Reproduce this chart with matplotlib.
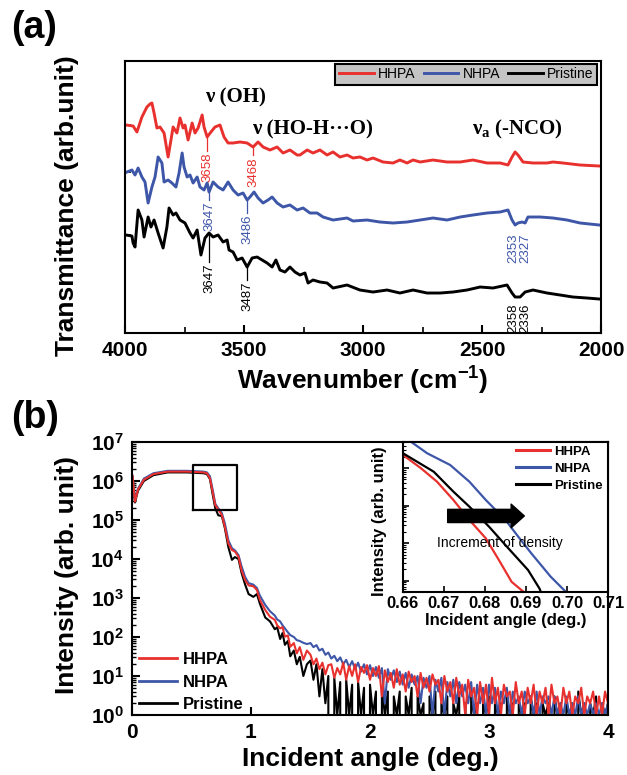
import numpy as np
import matplotlib
matplotlib.use('Agg')
import matplotlib.pyplot as plt
from matplotlib.lines import Line2D
from matplotlib.ticker import NullLocator, FixedLocator, FormatStrFormatter, LogLocator, NullFormatter

plt.rcParams['font.family'] = ['Liberation Sans', 'DejaVu Sans']
plt.rcParams['axes.linewidth'] = 1.5

RED = '#e8312e'
BLUE = '#3d56a8'
BLACK = '#000000'
series_names = ['HHPA', 'NHPA', 'Pristine']
series_colors = {'HHPA': RED, 'NHPA': BLUE, 'Pristine': BLACK}

# ---------------- (a) FTIR data ----------------
hhpa_wn = [3996, 3966, 3950, 3929, 3908, 3895, 3887, 3878, 3866, 3853, 3836, 3819, 3807, 3798, 3782,
           3769, 3756, 3748, 3735, 3718, 3706, 3693, 3676, 3668, 3655, 3639, 3622, 3601, 3584, 3567,
           3546, 3517, 3487, 3462, 3441, 3420, 3391, 3361, 3336, 3307, 3277, 3265, 3235, 3210, 3181,
           3151, 3126, 3097, 3067, 3042, 3013, 2983, 2958, 2916, 2874, 2845, 2815, 2790, 2760, 2706,
           2647, 2592, 2538, 2479, 2424, 2391, 2374, 2361, 2349, 2328, 2286, 2227, 2202, 2160, 2088, 2008]
hhpa_t = [208, 207, 201, 216, 226, 229, 230, 220, 205, 206, 200, 176, 193, 206, 200,
          215, 205, 208, 193, 210, 200, 205, 218, 206, 196, 201, 206, 208, 196, 190,
          190, 191, 190, 186, 191, 186, 183, 186, 180, 183, 178, 178, 183, 180, 183,
          178, 181, 176, 178, 175, 176, 173, 175, 171, 170, 173, 170, 173, 171, 173,
          171, 171, 173, 170, 170, 168, 176, 181, 178, 171, 170, 170, 171, 170, 168, 167]

nhpa_wn = [3992, 3971, 3958, 3945, 3929, 3916, 3903, 3887, 3874, 3861, 3845, 3836, 3819, 3803, 3786,
           3773, 3760, 3752, 3739, 3727, 3714, 3697, 3685, 3668, 3655, 3647, 3630, 3609, 3588, 3567,
           3546, 3525, 3504, 3487, 3475, 3458, 3441, 3420, 3399, 3382, 3361, 3336, 3307, 3277, 3252,
           3223, 3193, 3168, 3126, 3067, 3042, 2983, 2929, 2874, 2815, 2760, 2706, 2647, 2592, 2538,
           2479, 2424, 2391, 2374, 2361, 2349, 2332, 2319, 2307, 2256, 2202, 2143, 2088, 2008]
nhpa_t = [161, 163, 158, 165, 156, 151, 130, 146, 156, 176, 170, 151, 153, 150, 146,
          160, 180, 166, 156, 158, 150, 156, 146, 143, 150, 141, 151, 146, 143, 151,
          143, 138, 140, 133, 136, 141, 135, 130, 133, 136, 130, 126, 128, 123, 125,
          120, 120, 116, 113, 115, 112, 113, 111, 110, 111, 113, 115, 113, 116, 118,
          120, 121, 123, 113, 108, 110, 111, 110, 116, 116, 115, 113, 110, 108]

pristine_wn = [3996, 3971, 3966, 3958, 3945, 3929, 3920, 3903, 3891, 3878, 3861, 3840, 3824, 3815, 3798,
               3786, 3769, 3748, 3727, 3714, 3697, 3681, 3664, 3647, 3630, 3609, 3588, 3571, 3563, 3546,
               3529, 3508, 3487, 3466, 3445, 3424, 3403, 3382, 3366, 3349, 3328, 3307, 3286, 3265, 3244,
               3231, 3210, 3181, 3151, 3126, 3067, 3013, 2958, 2899, 2845, 2790, 2731, 2676, 2622, 2563,
               2508, 2454, 2395, 2374, 2361, 2340, 2319, 2286, 2227, 2172, 2118, 2059, 2008]
pristine_t = [98, 97, 90, 86, 123, 113, 96, 116, 106, 113, 100, 85, 106, 125, 118,
              120, 113, 110, 100, 95, 103, 78, 95, 100, 96, 98, 91, 93, 83, 81,
              73, 75, 66, 75, 76, 73, 70, 66, 73, 63, 61, 66, 61, 58, 60,
              50, 53, 51, 50, 45, 48, 43, 41, 43, 40, 43, 40, 40, 41, 43,
              46, 45, 48, 40, 36, 36, 41, 43, 40, 38, 36, 35, 34]

ftir = {'HHPA': (hhpa_wn, hhpa_t), 'NHPA': (nhpa_wn, nhpa_t), 'Pristine': (pristine_wn, pristine_t)}

# peak labels: text, series, x position, text top, leader start, leader end
peak_text = ['3658', '3468', '3647', '3486', '3647', '3487', '2353', '2327', '2358', '2336']
peak_series = ['HHPA', 'HHPA', 'NHPA', 'NHPA', 'Pristine', 'Pristine', 'NHPA', 'NHPA', 'Pristine', 'Pristine']
peak_x = [3655, 3462, 3647, 3487, 3647, 3487, 2370, 2320, 2370, 2320]
peak_top = [181, 176, 132, 119, 70, 52, 100, 100, 30, 30]
lead_from = [195, 186, 140, 132, 100, 66, None, None, None, None]
lead_to = [182, 178, 133, 120, 71, 53, None, None, None, None]

# ---------------- (b) XRR data ----------------
xrr_head_x = [0.005, 0.025, 0.05, 0.1, 0.18, 0.3, 0.46, 0.6, 0.63, 0.655, 0.68, 0.70, 0.725, 0.755,
              0.78, 0.81, 0.84, 0.865, 0.895, 0.92, 0.95, 0.98, 1.02, 1.05, 1.075, 1.12, 1.16, 1.2,
              1.22, 1.245, 1.265, 1.285, 1.31, 1.33, 1.36, 1.385, 1.41, 1.44, 1.47]
hhpa_head = [1.35e6, 2.95e5, 6.0e5, 1.07e6, 1.5e6, 1.74e6, 1.74e6, 1.66e6, 1.58e6, 1.17e6,
             4.8e5, 2.4e5, 1.86e5, 1.35e5, 6.8e4, 2.5e4, 1.7e4, 1.55e4, 1.15e4, 5.2e3,
             2.9e3, 2.1e3, 2.0e3, 1.6e3, 890, 490, 330, 275, 200, 166,
             180, 102, 110, 56, 70, 38, 55, 26, 45]
nhpa_head = [1.35e6, 3.2e5, 6.3e5, 1.15e6, 1.58e6, 1.82e6, 1.82e6, 1.74e6, 1.66e6, 1.32e6,
             5.6e5, 2.6e5, 2.0e5, 1.5e5, 8.3e4, 3.0e4, 1.9e4, 1.66e4, 1.26e4, 6.6e3,
             3.5e3, 2.4e3, 2.2e3, 1.8e3, 1.15e3, 660, 457, 355, 282, 251,
             200, 166, 132, 112, 100, 83, 79, 71, 66]
pristine_head = [1.26e6, 2.8e5, 5.6e5, 1.0e6, 1.41e6, 1.66e6, 1.66e6, 1.58e6, 1.51e6, 1.12e6,
                 4.2e5, 2.0e5, 1.32e5, 1.26e5, 6.3e4, 2.0e4, 9.5e3, 1.12e4, 1.0e4, 4.5e3,
                 2.24e3, 1.26e3, 1.07e3, 1.26e3, 710, 316, 251, 158, 178, 89,
                 126, 63, 79, 32, 45, 20, 31, 10, 20]

# noisy tail, 1.5 .. 4.0 deg in 0.025 steps (counts)
hhpa_tail = [35, 20, 28, 15, 22, 11, 19, 20, 9, 16, 11, 22, 8, 18, 10, 20, 7, 17, 12, 19,
             8, 16, 10, 18, 3, 14, 7, 12, 5, 15, 6, 11, 4, 13, 7, 10, 3, 12, 5, 9,
             4, 11, 6, 8, 2, 10, 4, 7, 2, 9, 3, 6, 1, 8, 3, 5, 1, 7, 2, 6,
             1, 9, 2, 5, 1, 6, 3, 4, 1, 7, 2, 4, 1, 5, 2, 6, 1, 4, 2, 5,
             1, 6, 2, 3, 1, 5, 2, 4, 1, 3, 2, 5, 1, 3, 2, 4, 1, 3, 1, 4, 2]
nhpa_tail = [70, 55, 62, 45, 50, 35, 40, 28, 33, 24, 30, 20, 26, 17, 24, 15, 22, 13, 20, 11,
             19, 10, 17, 9, 16, 2, 15, 8, 14, 7, 13, 6, 12, 5, 11, 6, 10, 2, 9, 5,
             10, 1, 8, 4, 9, 1, 7, 3, 8, 2, 7, 3, 6, 2, 7, 1, 6, 2, 5, 1,
             6, 2, 5, 1, 4, 2, 5, 1, 4, 2, 3, 1, 4, 2, 3, 1, 4, 1, 3, 2,
             3, 1, 3, 1, 2, 1, 3, 1, 2, 1, 3, 1, 2, 1, 2, 1, 2, 1, 2, 1, 2]
pristine_tail = [25, 8, 20, 3, 15, 2, 10, 0, 9, 1, 7, 0, 8, 1, 6, 0, 7, 1, 5, 0,
                 6, 1, 4, 0, 5, 1, 4, 0, 3, 1, 4, 0, 3, 1, 5, 0, 3, 1, 2, 0,
                 3, 1, 4, 0, 2, 1, 3, 0, 2, 1, 3, 0, 2, 0, 3, 1, 2, 0, 2, 1,
                 3, 0, 2, 1, 2, 0, 3, 1, 2, 0, 2, 1, 2, 0, 3, 1, 2, 0, 2, 1,
                 2, 0, 3, 1, 2, 0, 2, 1, 2, 0, 4, 1, 2, 0, 2, 1, 3, 0, 2, 1, 2]
xrr_tail_x = np.linspace(1.5, 4.0, len(hhpa_tail))

xrr = {'HHPA': (hhpa_head, hhpa_tail), 'NHPA': (nhpa_head, nhpa_tail), 'Pristine': (pristine_head, pristine_tail)}

# inset (zoom of critical angle region)
inset_hhpa_x = [0.66, 0.6644, 0.6683, 0.6723, 0.6762, 0.6802, 0.6834, 0.6865, 0.6889, 0.6900]
inset_hhpa_y = [2.25e6, 9.95e5, 4.37e5, 1.42e5, 4.17e4, 1.35e4, 3.55e3, 933, 562, 450]
inset_nhpa_x = [0.66, 0.6624, 0.6659, 0.6715, 0.6762, 0.6802, 0.685, 0.6881, 0.6913, 0.696, 0.7002]
inset_nhpa_y = [7.1e6, 4.68e6, 2.5e6, 1.22e6, 4.37e5, 1.42e5, 4.17e4, 1.5e4, 5.37e3, 1.29e3, 447]
inset_pristine_x = [0.66, 0.6675, 0.6723, 0.6762, 0.681, 0.6857, 0.6905, 0.6933, 0.694]
inset_pristine_y = [2.5e6, 8.07e5, 2.37e5, 9.42e4, 2.75e4, 7.31e3, 1.93e3, 617, 398]
inset = {'HHPA': (inset_hhpa_x, inset_hhpa_y), 'NHPA': (inset_nhpa_x, inset_nhpa_y),
         'Pristine': (inset_pristine_x, inset_pristine_y)}

# ---------------- figure ----------------
fig = plt.figure(figsize=(6.27, 7.75), dpi=100)

# ===== panel (a) =====
ax1 = fig.add_axes([0.1994, 0.5703, 0.7592, 0.3510])
for name in series_names:
    wn, t = ftir[name]
    ax1.plot(wn, t, color=series_colors[name], lw=2.1, label=name)
ax1.set_xlim(4000, 2000)
ax1.set_ylim(0, 272)
ax1.xaxis.set_major_locator(FixedLocator([4000, 3500, 3000, 2500, 2000]))
ax1.xaxis.set_minor_locator(FixedLocator([3750, 3250, 2750, 2250]))
ax1.yaxis.set_major_locator(FixedLocator([98, 161, 208]))
ax1.set_yticklabels([])
ax1.tick_params(axis='x', which='major', direction='in', length=6, width=1.5, labelsize=15, pad=6)
ax1.tick_params(axis='x', which='minor', direction='in', length=4, width=1.2)
ax1.tick_params(axis='y', which='major', direction='in', length=4, width=1.2)
for lab in ax1.get_xticklabels():
    lab.set_fontweight('bold')
ax1.set_xlabel('Wavenumber (cm$^{\\mathregular{-1}}$)', fontsize=19, fontweight='bold', labelpad=2)
ax1.set_ylabel('Transmittance (arb.unit)', fontsize=19, fontweight='bold')
ax1.yaxis.set_label_coords(-0.097, 0.47)

for s, ser, x, top, l1, l2 in zip(peak_text, peak_series, peak_x, peak_top, lead_from, lead_to):
    c = series_colors[ser]
    if l1 is not None:
        ax1.plot([x, x], [l1, l2], color=c, lw=0.9)
    ax1.text(x, top, s, rotation=90, ha='center', va='top', fontsize=9.5, color=c)

serif = ['Liberation Serif', 'DejaVu Serif']
ax1.text(3538, 231, '\u03bd (OH)', family=serif, fontsize=15, fontweight='bold', ha='center', va='baseline')
ax1.text(3214, 199, '\u03bd (HO-H\u00b7\u00b7\u00b7O)', family=serif, fontsize=15, fontweight='bold',
         ha='center', va='baseline')
ax1.text(2353, 199, '\u03bd$_\\mathregular{a}$ (-NCO)', family=serif, fontsize=15, fontweight='bold',
         ha='center', va='baseline')

leg1 = ax1.legend(loc='upper right', bbox_to_anchor=(0.992, 0.99), ncol=3, frameon=True, fancybox=False,
                  edgecolor='black', facecolor='#c4c4c4', framealpha=1, fontsize=10, handlelength=2.5,
                  handletextpad=0.3, columnspacing=0.6, borderpad=0.25, borderaxespad=0)
leg1.get_frame().set_linewidth(1.5)

# ===== panel (b) =====
ax2 = fig.add_axes([0.2105, 0.0774, 0.7592, 0.3523])
for name in ['Pristine', 'NHPA', 'HHPA']:
    head, tail = xrr[name]
    xs = list(xrr_head_x) + list(xrr_tail_x)
    ys = list(head) + list(tail)
    ax2.plot(xs, ys, color=series_colors[name], lw=1.5)
ax2.set_yscale('log')
ax2.set_xlim(0, 4)
ax2.set_ylim(1, 1e7)
ax2.xaxis.set_major_locator(FixedLocator([0, 1, 2, 3, 4]))
ax2.xaxis.set_minor_locator(NullLocator())
ax2.yaxis.set_major_locator(LogLocator(base=10, numticks=20))
ax2.yaxis.set_minor_locator(LogLocator(base=10, subs=np.arange(2, 10), numticks=20))
ax2.yaxis.set_minor_formatter(NullFormatter())
ax2.tick_params(axis='both', which='major', direction='in', length=6, width=1.5, labelsize=15, pad=6)
ax2.tick_params(axis='y', which='minor', direction='in', length=3, width=1.0)
for lab in ax2.get_xticklabels() + ax2.get_yticklabels():
    lab.set_fontweight('bold')
ax2.set_xlabel('Incident angle (deg.)', fontsize=19, fontweight='bold', labelpad=3)
ax2.set_ylabel('Intensity (arb. unit)', fontsize=19, fontweight='bold')
ax2.yaxis.set_label_coords(-0.111, 0.513)

# zoom rectangle
rect_x = [0.51, 0.88, 0.88, 0.51, 0.51]
rect_y = [1.8e5, 1.8e5, 2.6e6, 2.6e6, 1.8e5]
ax2.plot(rect_x, rect_y, color='black', lw=1.6)

handles = [Line2D([], [], color=series_colors[n], lw=2) for n in series_names]
leg2 = ax2.legend(handles, series_names, loc='lower left', bbox_to_anchor=(0.015, 0.01), frameon=False,
                  prop={'size': 12, 'weight': 'bold'}, handlelength=2.3, handletextpad=0.3,
                  labelspacing=0.45, borderpad=0, borderaxespad=0)

# ===== inset =====
axin = fig.add_axes([0.6427, 0.2361, 0.3270, 0.1936])
axin.set_facecolor('white')
for name in series_names:
    x, y = inset[name]
    axin.plot(x, y, color=series_colors[name], lw=1.6)
axin.set_yscale('log')
axin.set_xlim(0.66, 0.71)
axin.set_ylim(5e2, 5e6)
axin.xaxis.set_major_locator(FixedLocator([0.66, 0.67, 0.68, 0.69, 0.70, 0.71]))
axin.xaxis.set_major_formatter(FormatStrFormatter('%.2f'))
axin.yaxis.set_major_locator(LogLocator(base=10, numticks=20))
axin.yaxis.set_minor_locator(LogLocator(base=10, subs=np.arange(2, 10), numticks=20))
axin.yaxis.set_major_formatter(NullFormatter())
axin.yaxis.set_minor_formatter(NullFormatter())
axin.tick_params(axis='both', which='major', direction='in', length=4, width=1.2, labelsize=12, pad=3)
axin.tick_params(axis='y', which='minor', direction='in', length=2, width=0.8)
for lab in axin.get_xticklabels():
    lab.set_fontweight('bold')
axin.set_xlabel('Incident angle (deg.)', fontsize=12, fontweight='bold', labelpad=1)
axin.set_ylabel('Intensity (arb. unit)', fontsize=12, fontweight='bold')
axin.yaxis.set_label_coords(-0.08, 0.47)

axin.annotate('', xy=(0.592, 0.507), xytext=(0.218, 0.507), xycoords='axes fraction',
              arrowprops=dict(arrowstyle='simple,head_length=9.5,head_width=17,tail_width=9.5',
                              mutation_scale=1, color='black', shrinkA=0, shrinkB=0))
axin.text(0.471, 0.327, 'Increment of density', transform=axin.transAxes, fontsize=10,
          ha='center', va='center')
handles_in = [Line2D([], [], color=series_colors[n], lw=2.2) for n in series_names]
axin.legend(handles_in, series_names, loc='upper right', bbox_to_anchor=(0.975, 0.975), frameon=False,
            prop={'size': 9.5, 'weight': 'bold'}, handlelength=2.6, handletextpad=0.3,
            labelspacing=0.35, borderpad=0, borderaxespad=0)

# panel labels
fig.text(0.018, 0.987, '(a)', fontsize=27, fontweight='bold', ha='left', va='top')
fig.text(0.018, 0.484, '(b)', fontsize=27, fontweight='bold', ha='left', va='top')

fig.savefig('out.png', dpi=100)
